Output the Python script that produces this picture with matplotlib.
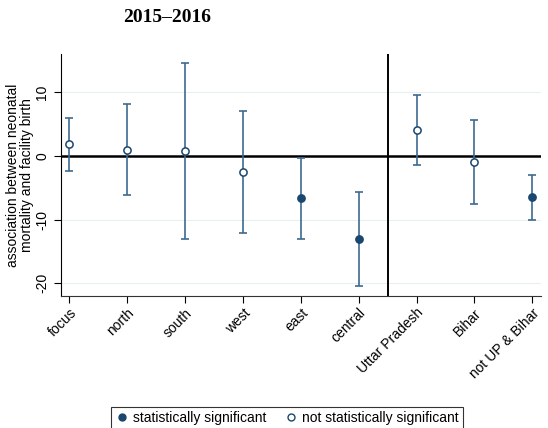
import matplotlib
matplotlib.use("Agg")
import matplotlib.pyplot as plt
from matplotlib.lines import Line2D

categories = ["focus", "north", "south", "west", "east", "central",
              "Uttar Pradesh", "Bihar", "not UP & Bihar"]
estimates = [1.8, 0.9, 0.8, -2.6, -6.6, -13.1, 4.0, -0.9, -6.5]
upper = [6.0, 8.1, 14.6, 7.0, -0.4, -5.7, 9.5, 5.6, -3.0]
lower = [-2.3, -6.2, -13.0, -12.1, -13.0, -20.5, -1.5, -7.5, -10.1]
significant = [False, False, False, False, True, True, False, False, True]

plt.rcParams['font.family'] = ['Liberation Sans', 'DejaVu Sans']

fig = plt.figure(figsize=(5.48, 4.28), dpi=100)
ax = fig.add_axes([61/548, 1-296/428, (541-61)/548, (296-54)/428])

navy = "#1a476f"
barc = "#3e6a8f"
x = list(range(1, len(categories) + 1))

for gy in [10, -10, -20]:
    ax.axhline(gy, color="#e8eef2", lw=0.8, zorder=0)
ax.axhline(0, color="black", lw=1.8, zorder=1)
ax.axvline(6.5, color="black", lw=1.4, zorder=1)

for xi, e, u, l, s in zip(x, estimates, upper, lower, significant):
    ax.errorbar([xi], [e], yerr=[[e - l], [u - e]], fmt="none",
                ecolor=barc, elinewidth=1.2, capsize=3, capthick=1.2, zorder=2)
    ax.plot([xi], [e], marker="o", ms=5.2, mec=navy, mew=1.1,
            mfc=navy if s else "white", ls="none", zorder=3)

ax.set_xlim(0.856, 9.15)
ax.set_ylim(-22, 16)
ax.set_yticks([-20, -10, 0, 10])
ax.set_yticklabels(["-20", "-10", "0", "10"], rotation=90, va="center", fontsize=10)
ax.set_xticks(x)
ax.set_xticklabels(categories, rotation=45, ha="right", rotation_mode="anchor", fontsize=10)
ax.tick_params(axis="both", length=5, width=0.8)
ax.tick_params(axis="x", pad=2)
ax.spines["top"].set_visible(False)
ax.spines["right"].set_visible(False)
ax.spines["bottom"].set_color("#333333")
ax.set_ylabel("association between neonatal\nmortality and facility birth", fontsize=10,
              linespacing=0.95)
ax.yaxis.set_label_coords(-0.057, 0.5)

handles = [Line2D([], [], marker="o", ls="none", ms=5, mfc=navy, mec=navy),
           Line2D([], [], marker="o", ls="none", ms=5, mfc="white", mec=navy)]
leg = fig.legend(handles, ["statistically significant", "not statistically significant"],
                 loc="upper center", bbox_to_anchor=(287/548, 1-400/428), ncol=2,
                 fontsize=10, frameon=True, fancybox=False, edgecolor="black",
                 handletextpad=0.3, columnspacing=1.3, borderpad=0.3, handlelength=1.0)
leg.get_frame().set_linewidth(0.8)

fig.text(167/548, 1-17/428, "2015–2016", ha="center", va="center",
         fontsize=14, fontweight="bold", family=["Liberation Serif", "DejaVu Serif"])

fig.savefig("out.png", dpi=100)
